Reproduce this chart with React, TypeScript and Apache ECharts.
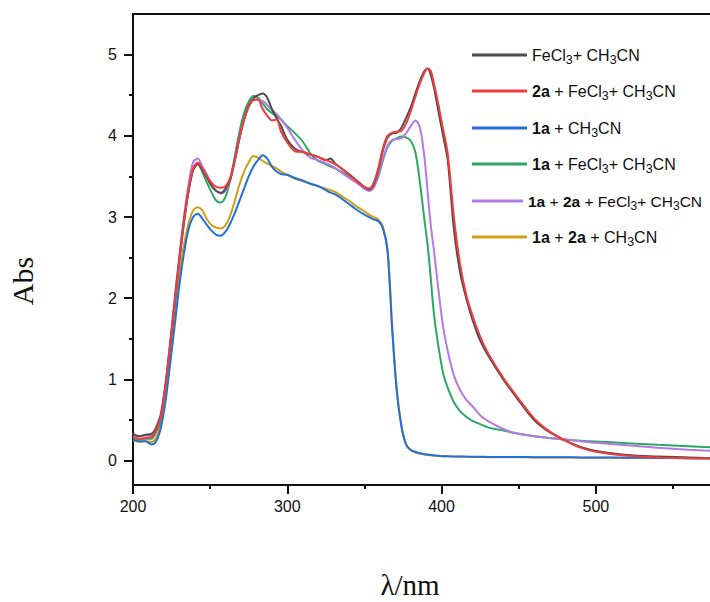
import React, { useEffect, useRef } from 'react';
import * as echarts from 'echarts';

const wavelengths = [200, 204, 208, 212, 215, 218, 221, 224, 227, 230, 233, 236, 239, 242, 245, 248, 251, 254, 257, 260, 263, 266, 269, 272, 275, 278, 281, 284, 287, 290, 293, 296, 300, 305, 310, 315, 320, 325, 328, 331, 335, 340, 345, 350, 353, 356, 359, 362, 365, 368, 371, 374, 377, 380, 383, 386, 389, 391, 393, 395, 398, 401, 404, 408, 412, 416, 420, 425, 430, 440, 450, 460, 470, 480, 490, 500, 520, 540, 560, 575];

const absFeCl3 = [0.33, 0.30, 0.32, 0.33, 0.40, 0.55, 0.92, 1.42, 1.95, 2.48, 2.95, 3.32, 3.58, 3.65, 3.58, 3.48, 3.38, 3.32, 3.30, 3.35, 3.47, 3.70, 3.97, 4.2, 4.37, 4.46, 4.5, 4.52, 4.47, 4.33, 4.22, 4.12, 3.95, 3.84, 3.8, 3.77, 3.74, 3.7, 3.72, 3.66, 3.6, 3.53, 3.45, 3.37, 3.34, 3.4, 3.58, 3.82, 3.98, 4.03, 4.04, 4.1, 4.22, 4.35, 4.52, 4.68, 4.8, 4.83, 4.75, 4.6, 4.3, 4.0, 3.7, 2.85, 2.32, 2.0, 1.74, 1.48, 1.3, 1.0, 0.74, 0.5, 0.35, 0.25, 0.17, 0.12, 0.07, 0.05, 0.04, 0.03];

const abs2aFeCl3 = [0.30, 0.27, 0.28, 0.29, 0.38, 0.53, 0.9, 1.4, 1.93, 2.46, 2.93, 3.33, 3.6, 3.67, 3.6, 3.5, 3.42, 3.37, 3.36, 3.38, 3.48, 3.7, 3.97, 4.2, 4.36, 4.44, 4.45, 4.33, 4.25, 4.19, 4.2, 4.05, 3.92, 3.81, 3.8, 3.77, 3.74, 3.7, 3.68, 3.65, 3.6, 3.52, 3.44, 3.37, 3.35, 3.42, 3.6, 3.85, 4.0, 4.04, 4.05, 4.06, 4.15, 4.3, 4.48, 4.65, 4.78, 4.83, 4.8, 4.65, 4.38, 4.08, 3.78, 3.0, 2.42, 2.04, 1.79, 1.53, 1.33, 1.02, 0.76, 0.52, 0.36, 0.25, 0.16, 0.11, 0.06, 0.04, 0.03, 0.025];

const abs1a = [0.26, 0.24, 0.24, 0.20, 0.24, 0.4, 0.72, 1.18, 1.66, 2.15, 2.55, 2.85, 3.0, 3.04, 2.98, 2.9, 2.83, 2.78, 2.77, 2.82, 2.92, 3.05, 3.2, 3.35, 3.5, 3.62, 3.7, 3.76, 3.72, 3.62, 3.56, 3.53, 3.52, 3.48, 3.45, 3.41, 3.38, 3.33, 3.3, 3.28, 3.23, 3.16, 3.09, 3.03, 3.0, 2.97, 2.95, 2.86, 2.58, 1.62, 0.85, 0.42, 0.2, 0.13, 0.11, 0.09, 0.08, 0.075, 0.07, 0.065, 0.06, 0.055, 0.055, 0.05, 0.05, 0.05, 0.048, 0.047, 0.046, 0.045, 0.044, 0.043, 0.042, 0.041, 0.04, 0.039, 0.036, 0.033, 0.03, 0.028];

const abs1aFeCl3 = [0.29, 0.26, 0.27, 0.27, 0.35, 0.5, 0.88, 1.38, 1.9, 2.44, 2.92, 3.32, 3.58, 3.66, 3.55, 3.42, 3.3, 3.2, 3.18, 3.25, 3.45, 3.75, 4.05, 4.28, 4.42, 4.49, 4.47, 4.4, 4.33, 4.28, 4.24, 4.2, 4.12, 4.03, 3.93, 3.78, 3.69, 3.65, 3.62, 3.6, 3.56, 3.5, 3.43, 3.35, 3.33, 3.37, 3.5, 3.7, 3.86, 3.94, 3.97, 3.99, 3.98, 3.94, 3.8, 3.42, 2.95, 2.65, 2.25, 1.82, 1.4, 1.08, 0.9, 0.72, 0.61, 0.54, 0.49, 0.45, 0.41, 0.37, 0.33, 0.3, 0.28, 0.26, 0.245, 0.235, 0.215, 0.195, 0.178, 0.165];

const abs1a2aFeCl3 = [0.33, 0.30, 0.31, 0.31, 0.42, 0.58, 0.95, 1.45, 2.0, 2.52, 3.0, 3.4, 3.68, 3.72, 3.62, 3.52, 3.4, 3.32, 3.29, 3.32, 3.45, 3.7, 3.98, 4.2, 4.36, 4.44, 4.44, 4.43, 4.38, 4.32, 4.27, 4.2, 4.1, 3.95, 3.82, 3.73, 3.7, 3.66, 3.64, 3.6, 3.55, 3.48, 3.42, 3.35, 3.32, 3.36, 3.52, 3.72, 3.88, 3.95, 3.96, 3.97, 4.03, 4.12, 4.19, 4.1, 3.72, 3.3, 2.9, 2.6, 2.1, 1.65, 1.35, 1.05, 0.87, 0.75, 0.67, 0.56, 0.49, 0.39, 0.33, 0.3, 0.28, 0.26, 0.24, 0.22, 0.19, 0.16, 0.135, 0.12];

const abs1a2a = [0.25, 0.23, 0.24, 0.23, 0.28, 0.45, 0.78, 1.25, 1.75, 2.25, 2.65, 2.92, 3.08, 3.12, 3.08, 2.97, 2.9, 2.87, 2.86, 2.9, 3.02, 3.2, 3.4, 3.56, 3.67, 3.75, 3.73, 3.69, 3.66, 3.63, 3.6, 3.56, 3.52, 3.47, 3.44, 3.41, 3.38, 3.35, 3.33, 3.31, 3.26, 3.2, 3.13, 3.07, 3.03, 3.0, 2.97, 2.88, 2.6, 1.65, 0.87, 0.43, 0.2, 0.13, 0.1, 0.085, 0.075, 0.07, 0.065, 0.06, 0.058, 0.055, 0.053, 0.05, 0.048, 0.046, 0.045, 0.044, 0.043, 0.042, 0.041, 0.04, 0.039, 0.038, 0.037, 0.036, 0.034, 0.032, 0.03, 0.028];

const seriesNames = ['FeCl3+ CH3CN', '2a + FeCl3+ CH3CN', '1a + CH3CN', '1a + FeCl3+ CH3CN', '1a + 2a + FeCl3+ CH3CN', '1a + 2a + CH3CN'];
const legendRich = ['FeCl{s|3}+ CH{s|3}CN', '{b|2a} + FeCl{s|3}+ CH{s|3}CN', '{b|1a} + CH{s|3}CN', '{b|1a} + FeCl{s|3}+ CH{s|3}CN', '{b|1a} + {b|2a} + FeCl{s|3}+ CH{s|3}CN', '{b|1a} + {b|2a} + CH{s|3}CN'];
const seriesValues = [absFeCl3, abs2aFeCl3, abs1a, abs1aFeCl3, abs1a2aFeCl3, abs1a2a];
const seriesColors = ['#4d4d4d', '#f23c3c', '#2170dc', '#2ca865', '#b57ae6', '#d39e12'];
const drawOrder = [5, 2, 3, 4, 0, 1];

const xMajorTicks = [200, 300, 400, 500];
const xMinorTicks = [250, 350, 450, 550];
const yMajorTicks = [0, 1, 2, 3, 4, 5];
const yMinorTicks = [0.5, 1.5, 2.5, 3.5, 4.5];

const X_MIN = 200, X_MAX = 574, Y_MIN = -0.3, Y_MAX = 5.5;
const legendRowTops = [47, 83, 120, 156, 193, 229];

export default function App() {
  const ref = useRef<HTMLDivElement>(null);
  useEffect(() => {
    if (!ref.current) return;
    const chart = echarts.init(ref.current, undefined, { renderer: 'svg' });
    const sans = 'Liberation Sans, Arial, sans-serif';
    const axisFont = { fontFamily: sans, fontSize: 16, color: '#111' };
    const lineStyle = { color: '#111', width: 2 };
    const series = drawOrder.map((i) => ({
      name: seriesNames[i],
      type: 'line',
      xAxisIndex: 0,
      yAxisIndex: 0,
      showSymbol: false,
      symbol: 'none',
      smooth: 0.3,
      data: wavelengths.map((w, k) => [w, seriesValues[i][k]]),
      lineStyle: { color: seriesColors[i], width: 2 },
      itemStyle: { color: seriesColors[i] },
      z: 2 + drawOrder.indexOf(i),
    }));
    const legends = seriesNames.map((name, i) => {
      const fs = i === 4 ? 15.5 : 16;
      return {
        data: [name],
        left: 472,
        top: legendRowTops[i],
        padding: 0,
        icon: 'rect',
        itemWidth: i === 4 ? 51 : 55,
        itemHeight: 3,
        selectedMode: false,
        formatter: () => legendRich[i],
        textStyle: {
          fontFamily: sans,
          fontSize: fs,
          color: '#111',
          rich: {
            b: { fontFamily: sans, fontSize: fs, fontWeight: 'bold', color: '#111' },
            s: { fontFamily: sans, fontSize: fs - 3.5, color: '#111', padding: [10, 0, 0, 0] },
          },
        },
      };
    });
    chart.setOption({
      animation: false,
      backgroundColor: '#fff',
      grid: { left: 133, top: 14, right: 0, bottom: 117, containLabel: false },
      legend: legends,
      xAxis: [
        {
          type: 'value', position: 'bottom', min: X_MIN, max: X_MAX,
          axisLine: { show: true, onZero: false, lineStyle },
          axisTick: { show: true, inside: false, length: 9, lineStyle, customValues: xMajorTicks },
          axisLabel: { ...axisFont, margin: 13, customValues: xMajorTicks },
          splitLine: { show: false },
        },
        {
          type: 'value', position: 'top', min: X_MIN, max: X_MAX,
          axisLine: { show: true, onZero: false, lineStyle },
          axisTick: { show: false }, axisLabel: { show: false }, splitLine: { show: false },
        },
        {
          type: 'value', position: 'bottom', min: X_MIN, max: X_MAX,
          axisLine: { show: false, onZero: false },
          axisTick: { show: true, length: 4, lineStyle, customValues: xMinorTicks },
          axisLabel: { show: false }, splitLine: { show: false },
        },
      ],
      yAxis: [
        {
          type: 'value', position: 'left', min: Y_MIN, max: Y_MAX,
          axisLine: { show: true, onZero: false, lineStyle },
          axisTick: { show: true, length: 9, lineStyle, customValues: yMajorTicks },
          axisLabel: { ...axisFont, margin: 16, customValues: yMajorTicks },
          splitLine: { show: false },
        },
        {
          type: 'value', position: 'left', min: Y_MIN, max: Y_MAX,
          axisLine: { show: false, onZero: false },
          axisTick: { show: true, length: 4, lineStyle, customValues: yMinorTicks },
          axisLabel: { show: false }, splitLine: { show: false },
        },
      ],
      graphic: [
        {
          type: 'text', x: 22, y: 281, rotation: Math.PI / 2,
          style: { text: 'Abs', fontFamily: 'Liberation Serif, Times New Roman, serif', fontSize: 30, fill: '#111', textAlign: 'center', textVerticalAlign: 'middle' },
        },
        {
          type: 'text', x: 410, y: 585,
          style: { text: 'λ/nm', fontFamily: 'Liberation Serif, Times New Roman, serif', fontSize: 29, fill: '#111', textAlign: 'center', textVerticalAlign: 'middle' },
        },
      ],
      series,
    });
    return () => chart.dispose();
  }, []);
  return <div ref={ref} style={{ position: 'fixed', left: 0, top: 0, width: 710, height: 602 }} />;
}
